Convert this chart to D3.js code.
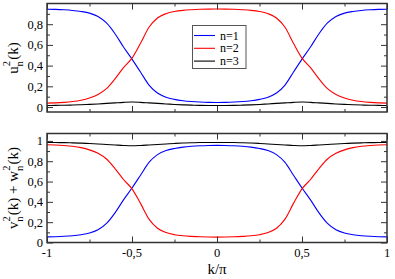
<!DOCTYPE html>
<html>
<head>
<meta charset="utf-8">
<script src="https://cdn.jsdelivr.net/npm/d3@7"></script>
<style>
  body { margin: 0; background: #fff; }
</style>
</head>
<body>
<div id="plot-container"></div>
<script>
// k/pi sample positions
const kVals = [-1,-0.95,-0.9,-0.85,-0.8,-0.75,-0.7,-0.65,-0.6,-0.55,-0.5,-0.45,-0.4,-0.35,-0.3,-0.25,-0.2,-0.15,-0.1,-0.05,
  0,0.05,0.1,0.15,0.2,0.25,0.3,0.35,0.4,0.45,0.5,0.55,0.6,0.65,0.7,0.75,0.8,0.85,0.9,0.95,1];

// top panel: u^2_n(k)
const uBlue = [0.945,0.943,0.939,0.933,0.923,0.907,0.875,0.812,0.708,0.580,0.463,0.338,0.212,0.135,0.095,0.074,0.061,0.053,0.048,0.045,
  0.044,0.045,0.048,0.053,0.061,0.074,0.095,0.135,0.212,0.338,0.463,0.580,0.708,0.812,0.875,0.907,0.923,0.933,0.939,0.943,0.945];
const uRed = [0.038,0.040,0.045,0.053,0.066,0.088,0.122,0.178,0.272,0.380,0.472,0.615,0.770,0.860,0.902,0.923,0.934,0.940,0.944,0.946,
  0.947,0.946,0.944,0.940,0.934,0.923,0.902,0.860,0.770,0.615,0.472,0.380,0.272,0.178,0.122,0.088,0.066,0.053,0.045,0.040,0.038];
const uBlack = [0.015,0.016,0.017,0.019,0.022,0.026,0.030,0.035,0.040,0.045,0.048,0.045,0.040,0.035,0.030,0.025,0.021,0.018,0.016,0.015,
  0.015,0.015,0.016,0.018,0.021,0.025,0.030,0.035,0.040,0.045,0.048,0.045,0.040,0.035,0.030,0.026,0.022,0.019,0.017,0.016,0.015];

// bottom panel: v^2_n(k) + w^2_n(k)
const vwBlue = [0.055,0.057,0.061,0.067,0.077,0.093,0.125,0.188,0.292,0.420,0.537,0.662,0.788,0.865,0.905,0.926,0.939,0.947,0.952,0.955,
  0.956,0.955,0.952,0.947,0.939,0.926,0.905,0.865,0.788,0.662,0.537,0.420,0.292,0.188,0.125,0.093,0.077,0.067,0.061,0.057,0.055];
const vwRed = [0.962,0.960,0.955,0.947,0.934,0.912,0.878,0.822,0.728,0.620,0.528,0.385,0.230,0.140,0.098,0.077,0.066,0.060,0.056,0.054,
  0.053,0.054,0.056,0.060,0.066,0.077,0.098,0.140,0.230,0.385,0.528,0.620,0.728,0.822,0.878,0.912,0.934,0.947,0.955,0.960,0.962];
const vwBlack = [0.985,0.984,0.983,0.981,0.978,0.974,0.970,0.965,0.960,0.955,0.952,0.955,0.960,0.965,0.970,0.975,0.979,0.982,0.984,0.985,
  0.985,0.985,0.984,0.982,0.979,0.975,0.970,0.965,0.960,0.955,0.952,0.955,0.960,0.965,0.970,0.974,0.978,0.981,0.983,0.984,0.985];

const xTicks = [-1, -0.5, 0, 0.5, 1];
const xMinor = [-0.75, -0.25, 0.25, 0.75];
const yTicksTop = [0, 0.2, 0.4, 0.6, 0.8];
const yTicksBot = [0, 0.2, 0.4, 0.6, 0.8, 1];
const legendLabels = ["n=1", "n=2", "n=3"];
const colors = ["#0000ff", "#ff0000", "#000000"];

const W = 395, H = 279;
const left = 47, right = 387;
const font = "'Liberation Serif', 'DejaVu Serif', serif";

const svg = d3.select("#plot-container")
  .append("svg")
  .attr("width", W)
  .attr("height", H)
  .style("font-family", font);

const x = d3.scaleLinear().domain([-1, 1]).range([left, right]);

const fmt = d => d === 0 ? "0" : (d === 1 ? "1" : (d === -1 ? "-1" : String(d).replace(".", ",")));

function panel(top, bottom, yDomain, yTicks, series, showXLabels) {
  const y = d3.scaleLinear().domain(yDomain).range([bottom, top]);
  const g = svg.append("g");

  // minor y ticks at odd tenths
  const yMinor = d3.range(0.1, yDomain[1], 0.2);

  // curves
  const line = d3.line()
    .x((d, i) => x(kVals[i]))
    .y(d => y(d))
    .curve(d3.curveMonotoneX);
  series.forEach((s, i) => {
    g.append("path")
      .datum(s)
      .attr("fill", "none")
      .attr("stroke", colors[i])
      .attr("stroke-width", 1.1)
      .attr("d", line);
  });

  // inward ticks on all four sides
  g.append("g").attr("transform", `translate(${left},0)`)
    .call(d3.axisRight(y).tickValues(yTicks).tickSize(6).tickFormat(""));
  g.append("g").attr("transform", `translate(${left},0)`)
    .call(d3.axisRight(y).tickValues(yMinor).tickSize(3).tickFormat(""));
  g.append("g").attr("transform", `translate(${right},0)`)
    .call(d3.axisLeft(y).tickValues(yTicks).tickSize(6).tickFormat(""));
  g.append("g").attr("transform", `translate(${right},0)`)
    .call(d3.axisLeft(y).tickValues(yMinor).tickSize(3).tickFormat(""));
  g.append("g").attr("transform", `translate(0,${top})`)
    .call(d3.axisBottom(x).tickValues(xTicks).tickSize(6).tickFormat(""));
  g.append("g").attr("transform", `translate(0,${top})`)
    .call(d3.axisBottom(x).tickValues(xMinor).tickSize(3).tickFormat(""));
  g.append("g").attr("transform", `translate(0,${bottom})`)
    .call(d3.axisTop(x).tickValues(xTicks).tickSize(6).tickFormat(""));
  g.append("g").attr("transform", `translate(0,${bottom})`)
    .call(d3.axisTop(x).tickValues(xMinor).tickSize(3).tickFormat(""));
  g.selectAll(".domain").remove();
  g.selectAll(".tick line").attr("stroke", "#333");

  // frame
  g.append("rect")
    .attr("x", left).attr("y", top)
    .attr("width", right - left).attr("height", bottom - top)
    .attr("fill", "none")
    .attr("stroke", "#333")
    .attr("stroke-width", 1.5);

  // y tick labels
  g.selectAll(".ylab")
    .data(yTicks)
    .enter().append("text")
    .attr("x", left - 4)
    .attr("y", d => y(d) + 4.5)
    .attr("text-anchor", "end")
    .style("font-size", "12.5px")
    .text(fmt);

  if (showXLabels) {
    g.selectAll(".xlab")
      .data(xTicks)
      .enter().append("text")
      .attr("x", d => x(d))
      .attr("y", bottom + 14)
      .attr("text-anchor", "middle")
      .style("font-size", "12.5px")
      .text(fmt);
  }
  return y;
}

panel(3.5, 112, [-0.048, 1.0], yTicksTop, [uBlue, uRed, uBlack], false);
panel(133.5, 242.5, [0, 1.073], yTicksBot, [vwBlue, vwRed, vwBlack], true);

// y axis titles with stacked super/subscripts
function yTitle(cx, cy, parts) {
  const t = svg.append("text")
    .attr("transform", `translate(${cx},${cy}) rotate(-90)`)
    .attr("text-anchor", "middle")
    .style("font-size", "15px");
  parts.forEach(p => {
    if (p.sup !== undefined) {
      t.append("tspan").attr("dy", -8).style("font-size", "10.5px").text(p.sup);
      t.append("tspan").attr("dx", -5.5).attr("dy", 13).style("font-size", "10.5px").text(p.sub);
      t.append("tspan").attr("dy", -5).text("\u200a");
    } else {
      t.append("tspan").text(p.txt);
    }
  });
}
yTitle(18, 58, [{txt: "u"}, {sup: "2", sub: "n"}, {txt: "(k)"}]);
yTitle(18, 188, [{txt: "v"}, {sup: "2", sub: "n"}, {txt: "(k) + w"}, {sup: "2", sub: "n"}, {txt: "(k)"}]);

// x axis title
svg.append("text")
  .attr("x", x(0))
  .attr("y", 274)
  .attr("text-anchor", "middle")
  .style("font-size", "15px")
  .text("k/π");

// legend
const lg = svg.append("g");
lg.append("rect")
  .attr("x", 192.5).attr("y", 25.5)
  .attr("width", 53.5).attr("height", 43)
  .attr("fill", "#fff")
  .attr("stroke", "#555")
  .attr("stroke-width", 1);
legendLabels.forEach((lab, i) => {
  const ly = 35.5 + i * 12.8;
  lg.append("line")
    .attr("x1", 194).attr("x2", 215)
    .attr("y1", ly).attr("y2", ly)
    .attr("stroke", colors[i])
    .attr("stroke-width", 1.1);
  lg.append("text")
    .attr("x", 220)
    .attr("y", ly + 4)
    .style("font-size", "12px")
    .text(lab);
});
</script>
</body>
</html>
